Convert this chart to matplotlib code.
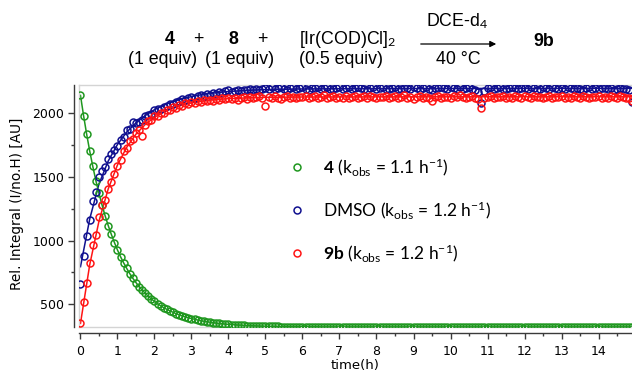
import numpy as np
import matplotlib
matplotlib.use('Agg')
import matplotlib.pyplot as plt
from matplotlib.ticker import MultipleLocator
from matplotlib.patches import FancyArrowPatch

plt.rcParams['mathtext.fontset'] = 'custom'
plt.rcParams['mathtext.rm'] = 'Lato'
plt.rcParams['mathtext.bf'] = 'Lato:bold'
plt.rcParams['mathtext.it'] = 'Lato:italic'

# ---------------- data (sampling every 5 min) ----------------
interval_h = 5 / 60

green_4 = [2140, 1982, 1836, 1703, 1582, 1470, 1370, 1279, 1194, 1118,
           1049, 985, 926, 873, 825, 781, 740, 703, 670, 639,
           611, 586, 562, 541, 522, 504, 488, 473, 460, 448,
           437, 426, 417, 409, 401, 394, 388, 382, 376, 371,
           367, 363, 359, 355, 352, 349, 347, 344, 342, 340,
           339, 337, 336, 334, 333, 332, 331, 330, 329, 328,
           328, 327, 327, 326, 326, 325, 325, 325, 324, 324,
           324, 324, 323, 323, 323, 323, 323, 323, 322, 322,
           322, 322, 322, 322, 322, 322, 322, 322, 322, 322,
           322, 322, 322, 322, 322, 322, 322, 322, 322, 322,
           322, 322, 322, 322, 322, 322, 322, 322, 322, 322,
           322, 322, 322, 322, 322, 322, 322, 322, 322, 322,
           322, 322, 322, 322, 322, 322, 322, 322, 322, 322,
           322, 322, 322, 322, 322, 322, 322, 322, 322, 322,
           322, 322, 322, 322, 322, 322, 322, 322, 322, 322,
           322, 322, 322, 322, 322, 322, 322, 322, 322, 322,
           322, 322, 322, 322, 322, 322, 322, 322, 322, 322,
           322, 322, 322, 322, 322, 322, 322, 322, 322, 322]

blue_dmso = [657, 879, 1039, 1162, 1311, 1380, 1497, 1550, 1581, 1639,
             1678, 1712, 1743, 1790, 1816, 1869, 1874, 1934, 1921, 1935,
             1946, 1975, 1990, 1995, 2028, 2035, 2030, 2052, 2060, 2075,
             2072, 2090, 2098, 2110, 2102, 2118, 2126, 2120, 2135, 2141,
             2137, 2150, 2146, 2158, 2152, 2165, 2160, 2172, 2180, 2168,
             2176, 2184, 2175, 2186, 2181, 2190, 2180, 2192, 2186, 2194,
             2200, 2192, 2203, 2188, 2199, 2207, 2194, 2185, 2198, 2204,
             2190, 2197, 2209, 2193, 2186, 2201, 2196, 2205, 2189, 2198,
             2210, 2194, 2187, 2200, 2206, 2191, 2197, 2203, 2188, 2195,
             2208, 2199, 2190, 2184, 2196, 2204, 2193, 2201, 2209, 2192,
             2187, 2198, 2205, 2194, 2189, 2202, 2197, 2190, 2206, 2199,
             2185, 2196, 2203, 2191, 2183, 2200, 2195, 2207, 2198, 2189,
             2204, 2197, 2192, 2205, 2188, 2199, 2210, 2194, 2186, 2170,
             2083, 2178, 2196, 2203, 2190, 2198, 2206, 2193, 2187, 2200,
             2208, 2195, 2189, 2202, 2197, 2191, 2205, 2199, 2186, 2194,
             2203, 2198, 2190, 2207, 2195, 2188, 2200, 2193, 2204, 2197,
             2189, 2201, 2194, 2186, 2198, 2205, 2191, 2196, 2188, 2202,
             2195, 2190, 2199, 2185, 2193, 2197, 2187, 2192, 2183, 2088]

red_9b = [350, 516, 670, 827, 966, 1045, 1189, 1280, 1320, 1405,
          1463, 1522, 1588, 1631, 1702, 1726, 1785, 1797, 1843, 1870,
          1824, 1905, 1941, 1944, 1975, 1978, 2004, 2003, 2028, 2024,
          2046, 2045, 2063, 2058, 2077, 2070, 2088, 2080, 2096, 2089,
          2102, 2094, 2108, 2099, 2112, 2104, 2116, 2109, 2120, 2112,
          2118, 2108, 2121, 2126, 2115, 2130, 2119, 2124, 2133, 2120,
          2060, 2127, 2118, 2132, 2122, 2115, 2129, 2136, 2121, 2125,
          2117, 2131, 2124, 2138, 2119, 2127, 2133, 2116, 2128, 2140,
          2122, 2126, 2135, 2118, 2130, 2123, 2137, 2120, 2129, 2134,
          2117, 2125, 2132, 2121, 2139, 2127, 2118, 2131, 2124, 2136,
          2120, 2128, 2133, 2119, 2126, 2141, 2123, 2130, 2115, 2127,
          2134, 2121, 2129, 2118, 2099, 2125, 2137, 2122, 2131, 2126,
          2119, 2133, 2124, 2140, 2128, 2117, 2130, 2136, 2121, 2110,
          2039, 2118, 2127, 2134, 2120, 2131, 2125, 2138, 2122, 2129,
          2116, 2132, 2126, 2119, 2135, 2128, 2121, 2137, 2124, 2130,
          2118, 2127, 2134, 2120, 2131, 2125, 2139, 2122, 2129, 2117,
          2133, 2126, 2121, 2136, 2128, 2119, 2131, 2124, 2138, 2123,
          2129, 2118, 2132, 2125, 2121, 2134, 2127, 2116, 2122, 2099]

# fitted curves
fit_t = [0, 0.25, 0.5, 0.75, 1.0, 1.25, 1.5, 1.75, 2.0, 2.25, 2.5, 2.75,
         3.0, 3.25, 3.5, 3.75, 4.0, 4.5, 5, 6, 8, 15]
fit_blue = [795, 1170, 1445, 1625, 1755, 1852, 1925, 1982, 2028, 2064, 2092,
            2114, 2131, 2145, 2156, 2164, 2171, 2180, 2186, 2191, 2194, 2196]
fit_red = [350, 811, 1153, 1406, 1594, 1733, 1836, 1912, 1969, 2010, 2041,
           2064, 2081, 2094, 2103, 2110, 2115, 2121, 2125, 2128, 2129, 2130]

labels = [r'$\mathbf{4}$ (k$_{\mathrm{obs}}$ = 1.1 h$^{\mathrm{-1}}$)',
          r'DMSO (k$_{\mathrm{obs}}$ = 1.2 h$^{\mathrm{-1}}$)',
          r'$\mathbf{9b}$ (k$_{\mathrm{obs}}$ = 1.2 h$^{\mathrm{-1}}$)']

x_ticks = list(range(0, 15))
y_ticks = [500, 1000, 1500, 2000]

c_green = '#1f971f'
c_blue = '#10108f'
c_red = '#ff1414'

t = np.arange(len(green_4)) * interval_h

W, H = 632, 372
fig = plt.figure(figsize=(W / 100, H / 100), dpi=100)
ax = fig.add_axes([79 / W, 1 - 327.3 / H, 1 - 79 / W, (327.3 - 85) / H])

ax.plot(fit_t, fit_blue, '-', color=c_blue, lw=1.1, zorder=2)
ax.plot(fit_t, fit_red, '-', color=c_red, lw=1.1, zorder=2)
ax.plot(t, green_4, '-', color=c_green, lw=1.1, zorder=2)

mk = dict(ls='none', marker='o', ms=5.0, mew=1.1, mfc='none')
h1, = ax.plot(t, green_4, mec=c_green, **mk, zorder=3)
h2, = ax.plot(t, blue_dmso, mec=c_blue, **mk, zorder=3)
h3, = ax.plot(t, red_9b, mec=c_red, **mk, zorder=3)

ax.set_xlim(-0.04, 14.905)
ax.set_ylim(319, 2222)

# light inner frame
for sp in ['top', 'right']:
    ax.spines[sp].set_visible(False)
ax.plot([0, 1], [1, 1], transform=ax.transAxes, color='#d4d4d4', lw=1, clip_on=False)
ax.plot([0, 0], [0, 1], transform=ax.transAxes, color='#d4d4d4', lw=1, clip_on=False)
ax.plot([0, 1], [0, 0], transform=ax.transAxes, color='#d4d4d4', lw=1, clip_on=False, zorder=1)

spc = '#3a3a3a'
ax.spines['left'].set_position(('outward', 3.6))
ax.spines['bottom'].set_position(('outward', 4.3))
for sp in ['left', 'bottom']:
    ax.spines[sp].set_color(spc)
    ax.spines[sp].set_linewidth(1.0)

ax.set_xticks(x_ticks)
ax.set_yticks(y_ticks)
ax.xaxis.set_minor_locator(MultipleLocator(0.5))
ax.yaxis.set_minor_locator(MultipleLocator(250))
ax.tick_params(which='major', direction='out', length=4.5, width=1.0, color=spc,
               labelsize=9, pad=2.5)
ax.tick_params(which='minor', direction='out', length=2.5, width=1.0, color=spc)
ax.tick_params(axis='x', pad=4)

fig.text(17 / W, 1 - 204 / H, 'Rel. Integral (I/no.H) [AU]', rotation=90,
         ha='center', va='center', fontsize=9.8)
fig.text(355 / W, 1 - 365 / H, 'time(h)', ha='center', va='center', fontsize=9.5)

leg = ax.legend([h1, h2, h3], labels, loc='upper left',
                bbox_to_anchor=(288 / W, 1 - 156 / H), bbox_transform=fig.transFigure,
                frameon=False, handlelength=1.0, handletextpad=1.0,
                labelspacing=1.22, borderpad=0, borderaxespad=0,
                prop={'family': 'Lato', 'size': 12.5})

# reaction scheme header
hf = dict(family='Liberation Sans', fontsize=12.8, ha='center', va='center')
def ft(x, y, s, **kw):
    d = dict(hf); d.update(kw)
    fig.text(x / W, 1 - y / H, s, **d)

ft(170, 40, '4', fontweight='bold')
ft(198, 40, '+')
ft(233, 40, '8', fontweight='bold')
ft(262, 40, '+')
ft(299, 40, r'[Ir(COD)Cl]$_{2}$', ha='left')
ft(457, 21, r'DCE-d$_{4}$')
ft(544, 41, '9b', fontweight='bold')
ft(163, 59, '(1 equiv)')
ft(240, 59, '(1 equiv)')
ft(341, 59, '(0.5 equiv)')
ft(458, 60, '40 °C')
fig.add_artist(FancyArrowPatch((418 / W, 1 - 44 / H), (499 / W, 1 - 44 / H),
                               transform=fig.transFigure, arrowstyle='-|>',
                               mutation_scale=9, lw=0.9, color='black'))

fig.savefig('out.png', dpi=100)
